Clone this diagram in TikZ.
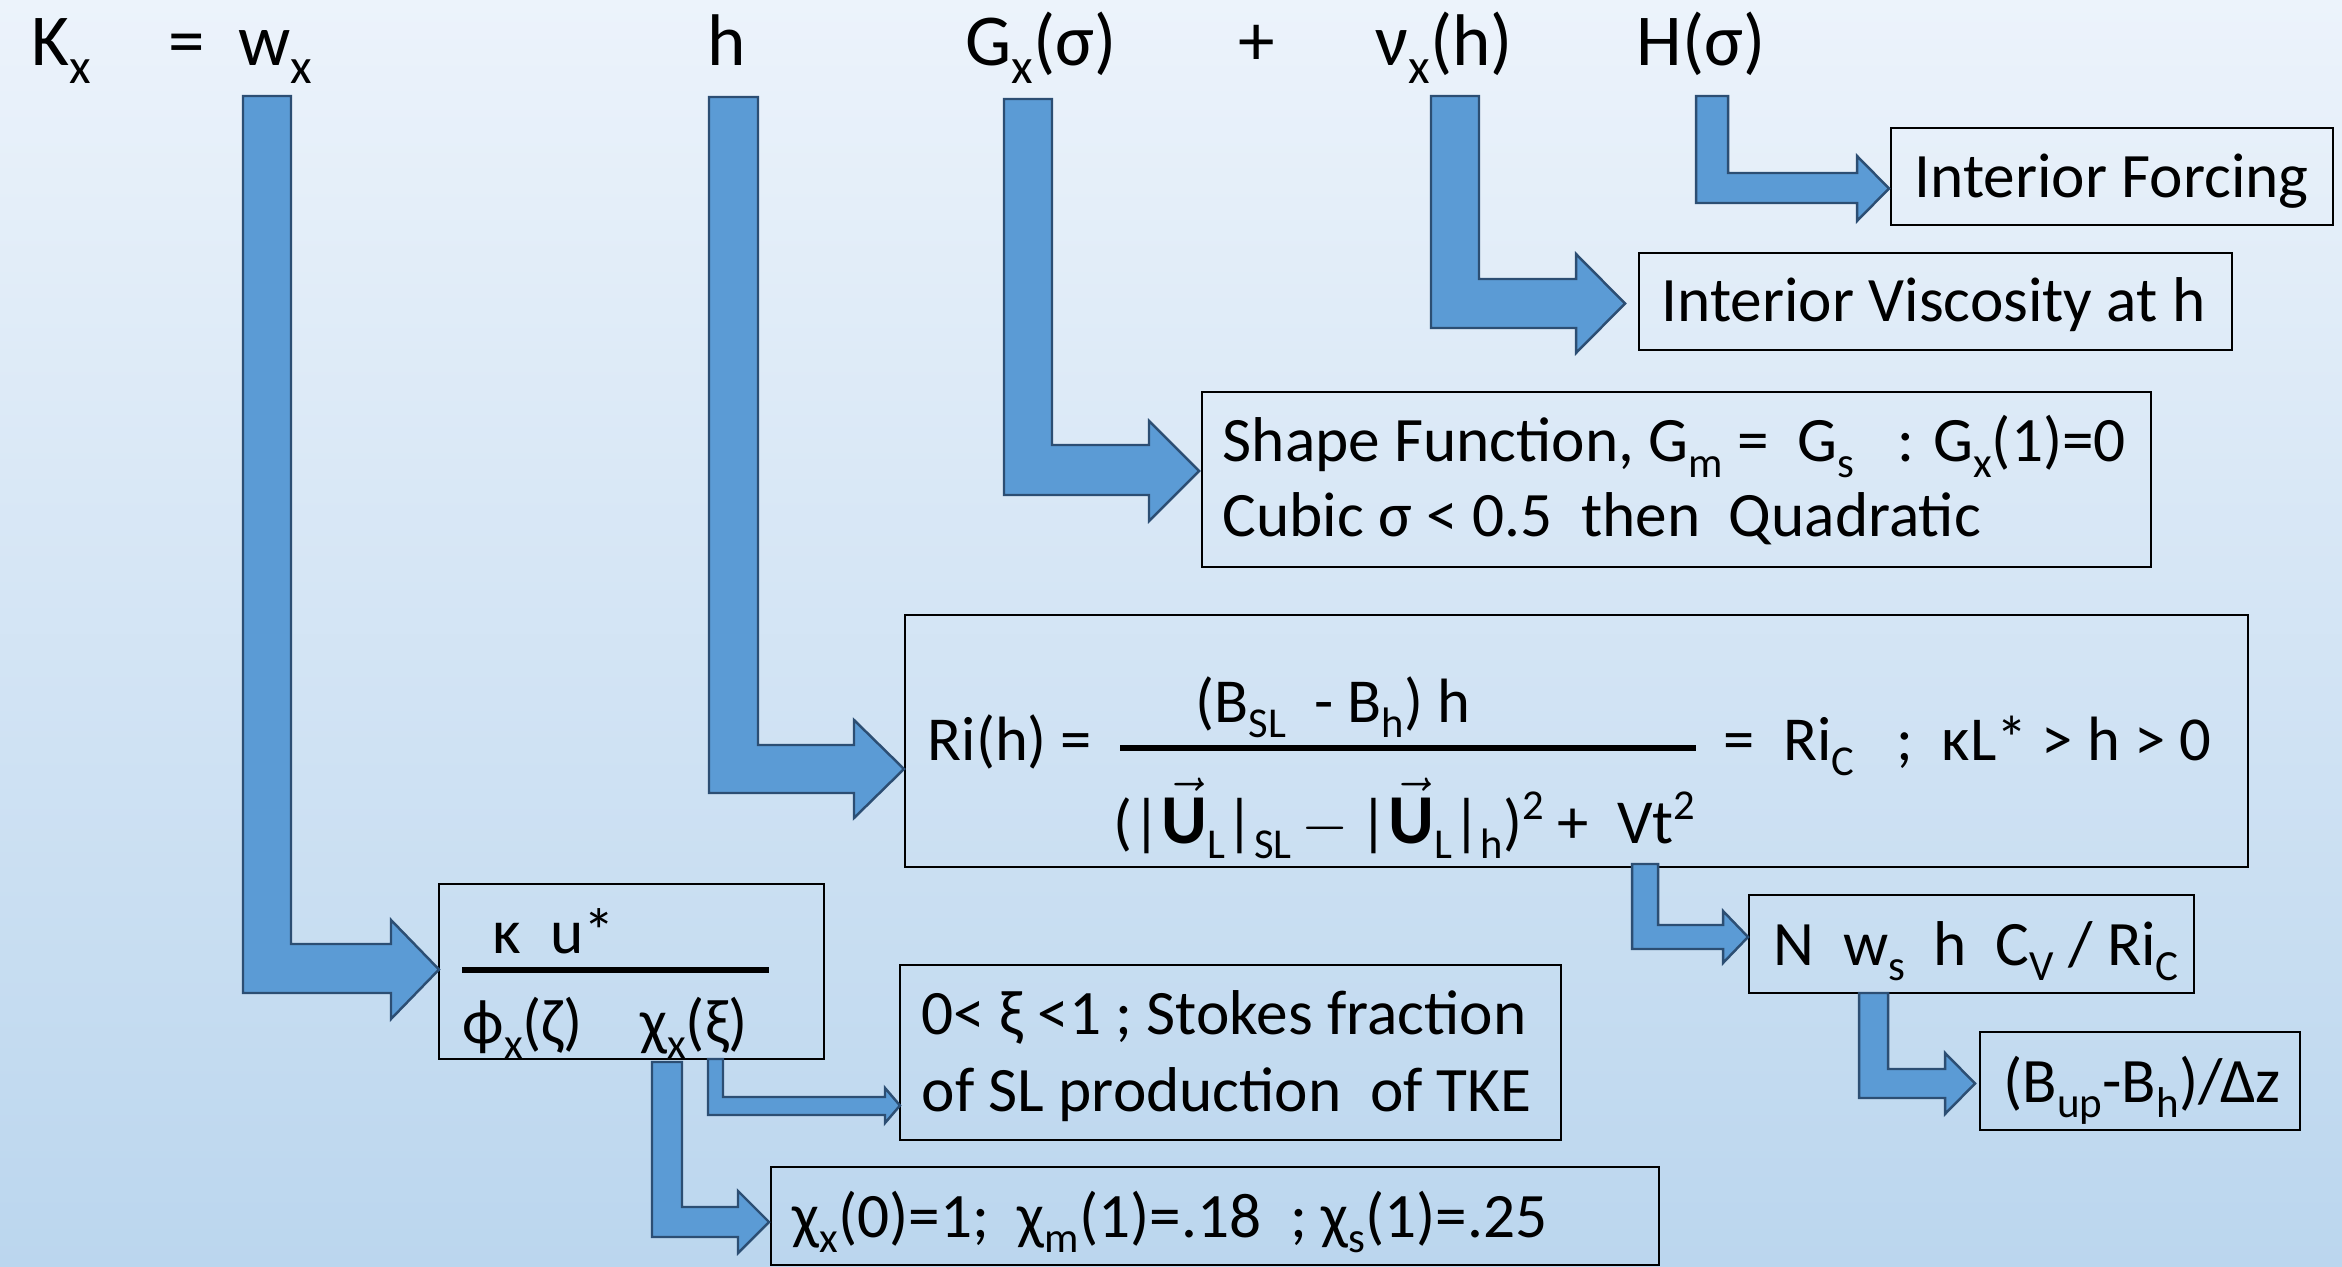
\documentclass[tikz,border=0pt]{standalone}
\usepackage{fontspec}
\usepackage{graphicx}
\setmainfont{Carlito}
\definecolor{bgtop}{RGB}{236,243,251}
\definecolor{bgbot}{RGB}{187,214,238}
\definecolor{arrfill}{RGB}{91,155,213}
\definecolor{arrline}{RGB}{44,78,115}
\newcommand{\sbs}[1]{\raisebox{-0.24em}{\scalebox{0.68}{#1}}}
\newcommand{\sps}[1]{\raisebox{0.38em}{\scalebox{0.68}{#1}}}
\newcommand{\bigU}{\scalebox{1.12}{$\vec{\mathbf{U}}$}}
\newcommand{\barrow}[9]{\draw[arr] (#1,#3) -- (#2,#3) -- (#2,#4) -- (#6,#4) -- (#6,#7) -- (#9,{(#7+#8)/2}) -- (#6,#8) -- (#6,#5) -- (#1,#5) -- cycle;}
\tikzset{
  arr/.style={fill=arrfill, draw=arrline, line width=0.7pt, line join=miter},
  bx/.style={draw=black, line width=0.6pt, inner sep=0pt, fill=none},
  toprow/.style={font=\fontsize{20.8}{25}\selectfont, anchor=base west, inner sep=0pt},
  txt/.style={font=\fontsize{18}{21}\selectfont, anchor=base west, inner sep=0pt},
  ritxt/.style={font=\fontsize{17.8}{21}\selectfont, anchor=base west, inner sep=0pt},
  fbar/.style={draw=black, line width=1.6pt}
}
\begin{document}
\begin{tikzpicture}[x=0.01cm,y=-0.01cm]
\shade[top color=bgtop, bottom color=bgbot] (0,0) rectangle (2342,1267);
\useasboundingbox (0,0) rectangle (2342,1267);

% boxes
\node[bx, minimum width=4.42cm, minimum height=0.97cm] (bIF) at (2112,176.5) {};
\node[bx, minimum width=5.93cm, minimum height=0.97cm] (bIV) at (1935.5,301.5) {};
\node[bx, minimum width=9.49cm, minimum height=1.75cm] (bSF) at (1676.5,479.5) {};
\node[bx, minimum width=13.43cm, minimum height=2.52cm] (bRi) at (1576.5,741) {};
\node[bx, minimum width=3.85cm, minimum height=1.75cm] (bKU) at (631.5,971.5) {};
\node[bx, minimum width=6.61cm, minimum height=1.75cm] (bST) at (1230.5,1052.5) {};
\node[bx, minimum width=8.88cm, minimum height=0.98cm] (bCH) at (1215,1216) {};
\node[bx, minimum width=4.45cm, minimum height=0.98cm] (bNW) at (1971.5,944) {};
\node[bx, minimum width=3.20cm, minimum height=0.98cm] (bBU) at (2140,1081) {};

% bent block arrows: L R top bandTop bandBot headBase headTop headBot tip
\barrow{243}{291}{96}{944}{993}{391}{920}{1019}{439}
\barrow{709}{758}{97}{745}{793}{854}{720}{818}{904}
\barrow{1004}{1052}{99}{445}{495}{1149}{421}{521}{1199}
\barrow{1431}{1479}{96}{279}{328}{1576}{254}{353}{1625}
\barrow{1696}{1728}{96}{173}{203}{1857}{156}{221}{1889}
\barrow{1632}{1658}{864}{925}{949}{1723}{911}{963}{1748}
\barrow{1859}{1888}{993}{1069}{1098}{1945}{1053}{1114}{1975}
\barrow{708}{723}{1059}{1097}{1115}{885}{1088}{1123}{900}
\barrow{652}{682}{1062}{1207}{1237}{738}{1191}{1253}{769}

% top row
\node[toprow] (tK) at (31,66) {K\sbs{x}};
\node[toprow] (tEq) at (168,66) {=};
\node[toprow] (tW) at (238,66) {w\sbs{x}};
\node[toprow] (tH) at (707,66) {h};
\node[toprow] (tG) at (965,66) {G\sbs{x}(σ)};
\node[toprow] (tPl) at (1238,66) {+};
\node[toprow] (tNu) at (1375,66) {ν\sbs{x}(h)};
\node[toprow] (tHs) at (1636,66) {H(σ)};

% box texts
\node[txt] (xIF) at (1914,198) {Interior Forcing};
\node[txt] (xIV) at (1661,322) {Interior Viscosity at h};
\node[txt] (xSF1) at (1222,462) {Shape Function, G\sbs{m} =\ \ G\sbs{s}\ \ \ : G\sbs{x}(1)=0};
\node[txt] (xSF2) at (1222,537) {Cubic σ < 0.5\ \ then\ \ Quadratic};

\node[ritxt] (xRi) at (927,760) {Ri(h) =};
\node[ritxt] (xNum) at (1195,722) {(B\sbs{SL}\ \ - B\sbs{h}) h};
\draw[fbar] (1120,748) -- (1696,748);
\node[ritxt] (xRc) at (1723,760) {=\ \ Ri\sbs{C}\ \ \ ;\ \ κL* > h > 0};
\node[ritxt] (xDen) at (1113,843) {(|\bigU\sbs{L}|\sbs{SL}\,$-$\,|\bigU\sbs{L}|\sbs{h})\sps{2} +\ \ Vt\sps{2}};

\node[txt] (xKU) at (492,953) {κ\ \ u*};
\draw[fbar] (462,970) -- (769,970);
\node[txt] (xPC) at (462,1043) {ϕ\sbs{x}(ζ)\ \ \ \ χ\sbs{x}(ξ)};

\node[txt] (xST1) at (921,1034) {0< ξ <1 ; Stokes fraction};
\node[txt] (xST2) at (921,1111) {of SL production\ \ of TKE};
\node[txt] (xCH) at (792,1237) {χ\sbs{x}(0)=1;\ \ χ\sbs{m}(1)=.18\ \ ; χ\sbs{s}(1)=.25};
\node[txt] (xNW) at (1773,965) {N\ \ w\sbs{s}\ \ h\ \ C\sbs{V} / Ri\sbs{C}};
\node[txt] (xBU) at (2003,1102) {(B\sbs{up}-B\sbs{h})/Δz};
\end{tikzpicture}
\end{document}
